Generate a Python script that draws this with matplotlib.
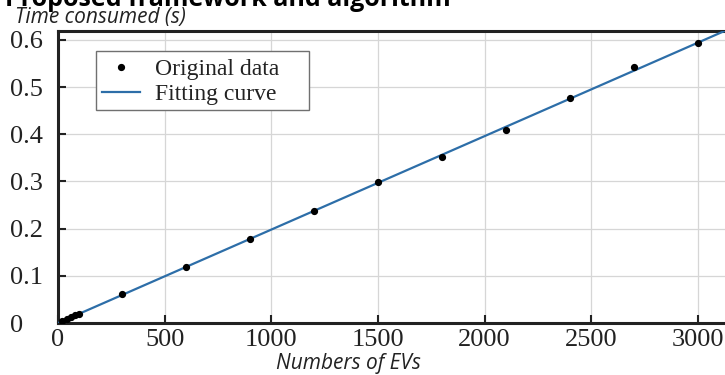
import numpy as np
import matplotlib
matplotlib.use("Agg")
import matplotlib.pyplot as plt
from matplotlib.patches import Rectangle

# Data
ev_counts = [20, 40, 60, 80, 100, 300, 600, 900, 1200, 1500, 1800, 2100, 2400, 2700, 3000]
time_s = [0.004, 0.008, 0.012, 0.016, 0.020, 0.061, 0.119, 0.178, 0.237, 0.298,
          0.352, 0.410, 0.476, 0.542, 0.594]
x_ticks = [0, 500, 1000, 1500, 2000, 2500, 3000]
y_ticks = [0, 0.1, 0.2, 0.3, 0.4, 0.5, 0.6]
y_tick_labels = ["0", "0.1", "0.2", "0.3", "0.4", "0.5", "0.6"]
fit_range = [0, 3200]

W, H = 725, 375
fig = plt.figure(figsize=(W / 100, H / 100), dpi=100)

ax_left, ax_bottom = 58, 323
xmax, ymax = 3200, 0.62
px_per_x = (698 - 58) / 3000
ax_w = xmax * px_per_x
ax_h = 323 - 30.5
ax = fig.add_axes([ax_left / W, (H - ax_bottom) / H, ax_w / W, ax_h / H])

coef = np.polyfit(ev_counts, time_s, 1)
xf = np.array(fit_range, dtype=float)
yf = np.polyval(coef, xf)

ax.plot(xf, yf, color="#2d6ea8", lw=1.6, label="Fitting curve", zorder=3)
ax.plot(ev_counts, time_s, "o", color="black", ms=4.2, label="Original data", zorder=4)

ax.set_xlim(0, xmax)
ax.set_ylim(0, ymax)
ax.set_xticks(x_ticks)
ax.set_yticks(y_ticks)
ax.set_yticklabels(y_tick_labels)
ax.grid(True, color="#d6d6d6", lw=0.9)
ax.set_axisbelow(True)

serif = "Liberation Serif"
ax.tick_params(axis="both", direction="in", length=6, width=1.5, color="#222222",
               labelsize=19, labelcolor="#222222")
ax.tick_params(axis="x", pad=4)
ax.tick_params(axis="y", pad=34.5)
for lab in ax.get_xticklabels() + ax.get_yticklabels():
    lab.set_fontfamily(serif)
for lab in ax.get_yticklabels():
    lab.set_ha("left")

for side in ["left", "bottom", "top"]:
    ax.spines[side].set_linewidth(2.2)
    ax.spines[side].set_color("#222222")
ax.spines["right"].set_visible(False)

# legend frame (wider on the right, as in the reference)
frame = Rectangle((96 / W, (H - 110) / H), 213 / W, 59 / H, transform=fig.transFigure,
                  facecolor="white", edgecolor="#707070", lw=1.0, zorder=4.5,
                  clip_on=False)
ax.add_artist(frame)

handles, labels = ax.get_legend_handles_labels()
leg = ax.legend([handles[1], handles[0]], [labels[1], labels[0]],
                loc="upper left", bbox_to_anchor=(96 / W, (H - 53) / H),
                bbox_transform=fig.transFigure, borderaxespad=0,
                prop={"family": serif, "size": 17}, frameon=False,
                handlelength=1.6, handletextpad=0.65, borderpad=0.25,
                labelspacing=0.14)
leg.set_zorder(5)
for t in leg.get_texts():
    t.set_color("#222222")

fig.text(5 / W, (H - 6) / H, "Proposed framework and algorithm", family="Open Sans",
         weight="bold", size=18, color="black", va="baseline", ha="left")
fig.text(15 / W, (H - 22.5) / H, "Time consumed (s)", family="Open Sans",
         style="italic", size=15, color="#222222", va="baseline", ha="left")
fig.text(348 / W, (H - 369) / H, "Numbers of EVs", family="Open Sans",
         style="italic", size=15, color="#222222", va="baseline", ha="center")

fig.savefig("out.png", dpi=100)
